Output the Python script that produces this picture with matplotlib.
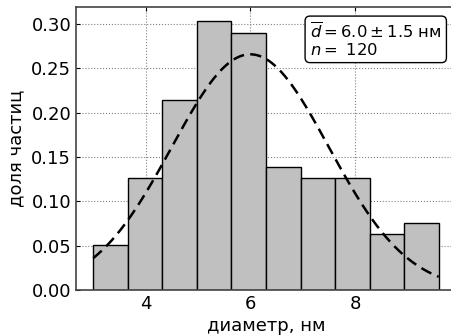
import numpy as np
import matplotlib
matplotlib.use("Agg")
import matplotlib.pyplot as plt

# data
bin_edges = [3.0, 3.66, 4.32, 4.98, 5.64, 6.30, 6.96, 7.62, 8.28, 8.94, 9.60]
counts = [4, 10, 17, 24, 23, 11, 10, 10, 5, 6]
n_total = 120
mean_d = 6.0
std_d = 1.5
x_ticks = [4, 6, 8]
y_ticks = [0.00, 0.05, 0.10, 0.15, 0.20, 0.25, 0.30]

edges = np.array(bin_edges)
widths = np.diff(edges)
dens = np.array(counts) / (n_total * widths)

fig = plt.figure(figsize=(4.51, 3.36), dpi=100)
ax = fig.add_axes([76/451, 46/336, (456-76)/451, (290-7.3)/336])

ax.bar(edges[:-1], dens, width=widths, align='edge', color='#c0c0c0',
       edgecolor='black', linewidth=1.0, zorder=2)

xs = np.linspace(edges[0], edges[-1], 300)
pdf = np.exp(-0.5 * ((xs - mean_d) / std_d) ** 2) / (std_d * np.sqrt(2 * np.pi))
ax.plot(xs, pdf, '--', color='black', linewidth=1.8, dashes=(4.5, 2.5), zorder=3)

ax.set_xlim(2.67, 9.93)
ax.set_ylim(0, 0.319)
ax.set_xticks(x_ticks)
ax.set_yticks(y_ticks)
ax.set_yticklabels([f"{v:.2f}" for v in y_ticks])
ax.tick_params(direction='in', top=True, right=True, labelsize=13, length=3)
ax.grid(True, linestyle=':', color='gray', linewidth=0.8, zorder=0)
ax.set_axisbelow(True)
for s in ax.spines.values():
    s.set_color('#444444')
    s.set_linewidth(1.2)

ax.set_xlabel('диаметр, нм', fontsize=13, labelpad=3)
ax.set_ylabel('доля частиц', fontsize=13, labelpad=4)

txt = r'$\overline{d} = 6.0 \pm 1.5$ нм' + '\n' + r'$n = $ 120'
fig.text(310/451, 1 - 21/336, txt, ha='left', va='top', fontsize=11.8,
         linespacing=1.05,
         bbox=dict(boxstyle='round,pad=0.3', fc='white', ec='black', lw=1.0))

fig.savefig('out.png', dpi=100)
